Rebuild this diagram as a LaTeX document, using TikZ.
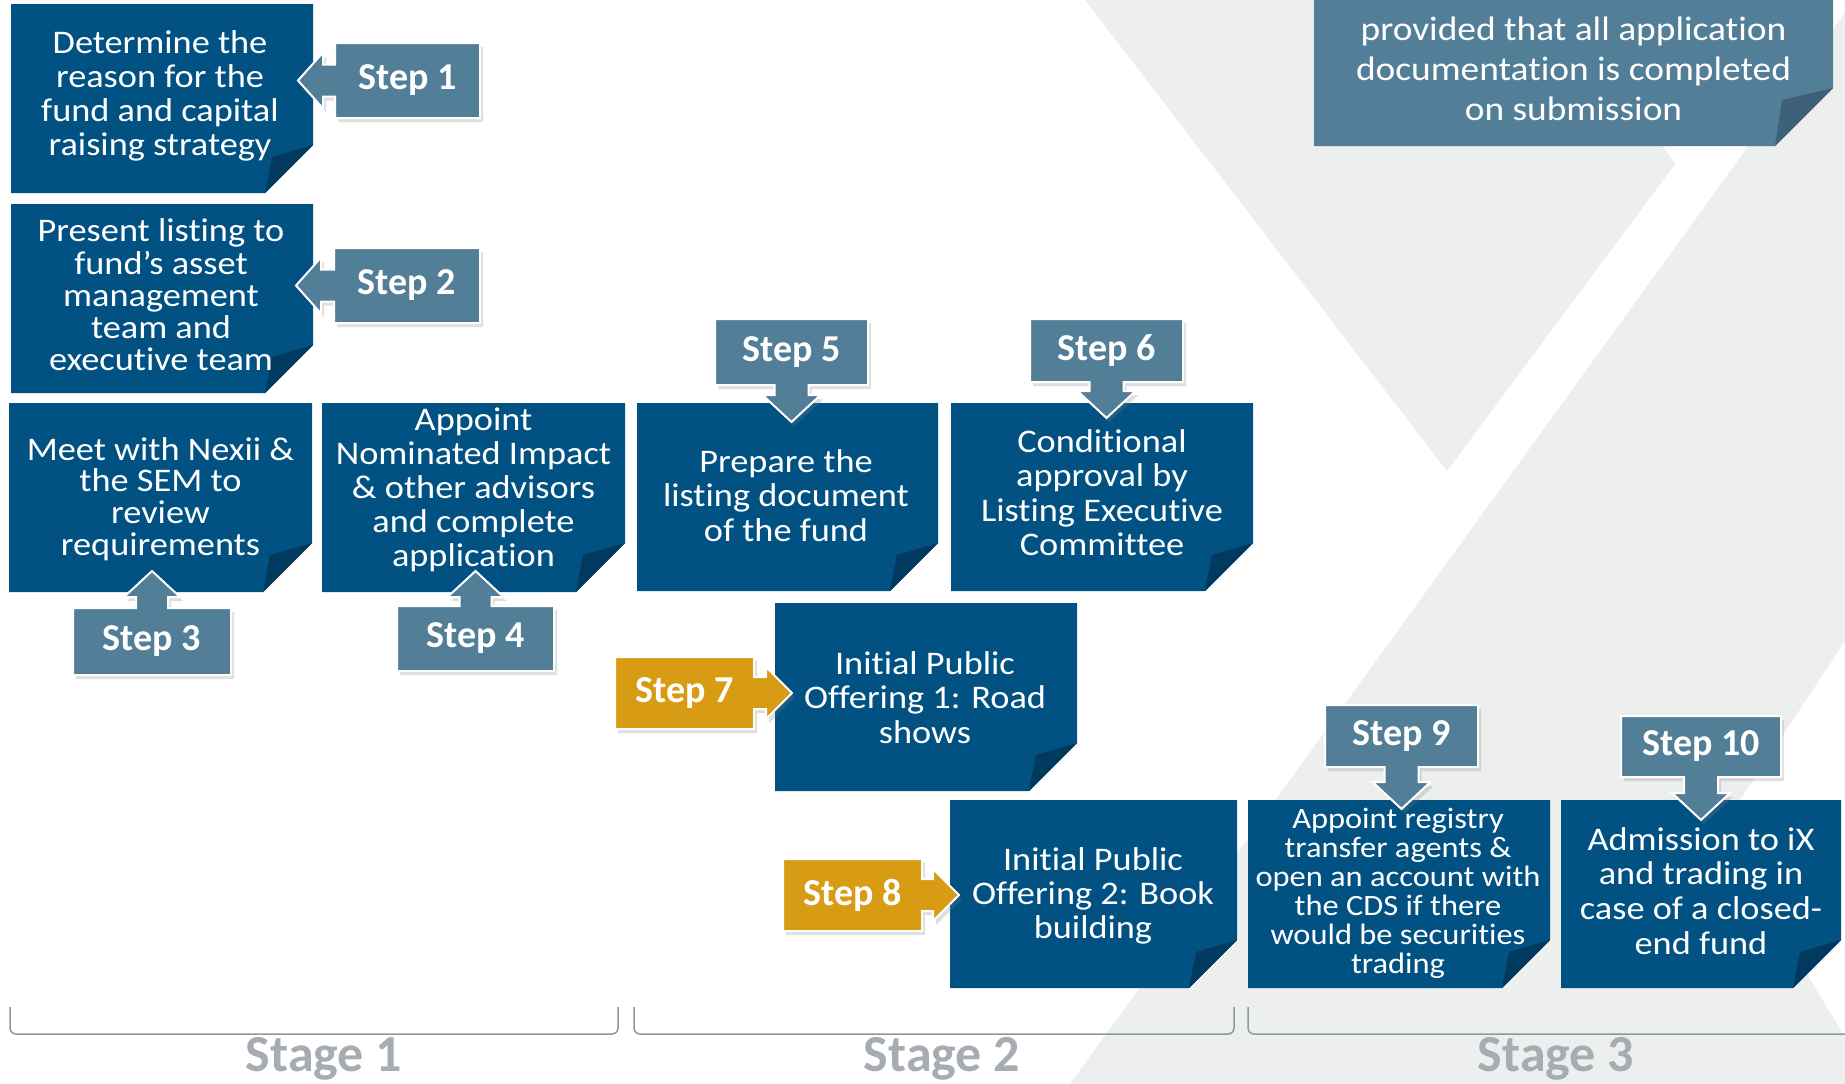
\documentclass[tikz,border=0pt]{standalone}
\usepackage{fontspec}
\setmainfont{Carlito}[FakeStretch=1.1, Ligatures=NoCommon]
\newfontfamily\labfont{Carlito}[Ligatures=NoCommon]
\usetikzlibrary{calc,shadows}
\definecolor{mainblue}{RGB}{1,82,131}
\definecolor{folddark}{RGB}{0,58,95}
\definecolor{stepblue}{RGB}{82,126,152}
\definecolor{stepfold}{RGB}{62,97,120}
\definecolor{gold}{RGB}{216,155,20}
\definecolor{bggray}{RGB}{237,239,239}
\definecolor{stagegray}{RGB}{166,172,177}
\definecolor{bracketgray}{RGB}{140,152,162}
\pgfdeclarelayer{bgl}
\pgfdeclarelayer{shp}
\pgfsetlayers{bgl,shp,main}
\tikzset{
 boxnode/.style={rectangle, inner sep=0pt, outer sep=0pt},
 btext/.style={align=center, text=white, inner sep=0pt, font=\fontsize{33}{34}\selectfont},
 steplabel/.style={rectangle, inner sep=0pt, outer sep=0pt, text=white, font=\labfont\bfseries\fontsize{38}{38}\selectfont},
 stepshape/.style={fill=stepblue, draw=white, line width=2pt, line join=miter, drop shadow={shadow xshift=3pt, shadow yshift=-4pt, opacity=0.25}},
 goldshape/.style={stepshape, fill=gold},
 stagelabel/.style={text=stagegray, font=\labfont\bfseries\fontsize{52}{52}\selectfont, inner sep=0pt, anchor=base},
 bracket/.style={draw=bracketgray, line width=1.5pt, rounded corners=6pt},
}
\newcommand\foldpoly[4]{%
 \fill[#3] (#1.north west) -- (#1.north east) -- ($(#1.south east)+(0,-#2)$) -- ($(#1.south east)+(-#2,0)$) -- (#1.south west) -- cycle;
 \fill[#4] ($(#1.south east)+(-#2,0)$) -- ($(#1.south east)+(0,-#2)$) -- ($(#1.south east)+(-#2+7,-#2+12)$) -- cycle;
}
\newcommand\callleft[4]{%
 \path[#3] let \p1=(#1.south west), \p2=(#1.north east), \p3=($(#1.west -| #2.east)+(-#4,0)$) in
 (\x1,\y1) -- (\x1,\y3-16pt) -- (\x3+25pt,\y3-16pt) -- (\x3+25pt,\y3-28pt) -- (\x3,\y3) -- (\x3+25pt,\y3+28pt) -- (\x3+25pt,\y3+16pt) -- (\x1,\y3+16pt) -- (\x1,\y2) -- (\x2,\y2) -- (\x2,\y1) -- cycle;
}
\newcommand\callright[4]{%
 \path[#3] let \p1=(#1.south west), \p2=(#1.north east), \p3=($(#1.east -| #2.west)+(#4,0)$) in
 (\x1,\y1) -- (\x1,\y2) -- (\x2,\y2) -- (\x2,\y3+16pt) -- (\x3-26pt,\y3+16pt) -- (\x3-26pt,\y3+26pt) -- (\x3,\y3) -- (\x3-26pt,\y3-26pt) -- (\x3-26pt,\y3-16pt) -- (\x2,\y3-16pt) -- (\x2,\y1) -- cycle;
}
\newcommand\calldown[4]{%
 \path[#3] let \p1=(#1.south west), \p2=(#1.north east), \p3=($(#1.south |- #2.north)+(0,#4)$) in
 (\x1,\y2) -- (\x2,\y2) -- (\x2,\y1) -- (\x3+17pt,\y1) -- (\x3+17pt,\y3+27pt) -- (\x3+29pt,\y3+27pt) -- (\x3,\y3) -- (\x3-29pt,\y3+27pt) -- (\x3-17pt,\y3+27pt) -- (\x3-17pt,\y1) -- (\x1,\y1) -- cycle;
}
\newcommand\callup[4]{%
 \path[#3] let \p1=(#1.south west), \p2=(#1.north east), \p3=($(#1.north |- #2.south)+(0,-#4)$) in
 (\x1,\y1) -- (\x1,\y2) -- (\x3-16pt,\y2) -- (\x3-16pt,\y3-26pt) -- (\x3-28pt,\y3-26pt) -- (\x3,\y3) -- (\x3+28pt,\y3-26pt) -- (\x3+16pt,\y3-26pt) -- (\x3+16pt,\y2) -- (\x2,\y2) -- (\x2,\y1) -- cycle;
}
\begin{document}
\begin{tikzpicture}[x=1pt,y=-1pt]
\useasboundingbox (0,0) rectangle (1845,1084);
\begin{pgfonlayer}{bgl}
 \fill[white] (0,0) rectangle (1845,1084);
 \fill[bggray] (1085,0) -- (1447,471) -- (1675,164) -- (1560,0) -- cycle;
 \fill[bggray] (1070,1084) -- (1854,0) -- (1900,0) -- (1900,1084) -- cycle;
 \fill[white] (1850,634) -- (1720,830) -- (1850,1045) -- cycle;
\end{pgfonlayer}
% box holders
\node[boxnode, minimum width=302pt, minimum height=189pt] (b1) at (162,98.5) {};
\node[boxnode, minimum width=302pt, minimum height=189pt] (b2) at (162,298.5) {};
\node[boxnode, minimum width=303pt, minimum height=189pt] (b3) at (160.5,497.5) {};
\node[boxnode, minimum width=303pt, minimum height=189pt] (b4) at (473.5,497.5) {};
\node[boxnode, minimum width=301pt, minimum height=188pt] (b5) at (787.5,497) {};
\node[boxnode, minimum width=302pt, minimum height=188pt] (b6) at (1102,497) {};
\node[boxnode, minimum width=302pt, minimum height=188pt] (b7) at (926,697) {};
\node[boxnode, minimum width=287pt, minimum height=188pt] (b8) at (1093.5,894) {};
\node[boxnode, minimum width=302pt, minimum height=188pt] (b9) at (1399,894) {};
\node[boxnode, minimum width=280pt, minimum height=188pt] (b10) at (1701,894) {};
\node[boxnode, minimum width=519pt, minimum height=156pt] (bt) at (1573.5,68) {};
% box texts
\node[btext] (t1) at (160,96) {Determine the\\reason for the\\fund and capital\\raising strategy};
\node[btext, font=\fontsize{33}{32.2}\selectfont] (t2) at (161,295) {Present listing to\\fund’s asset\\management\\team and\\executive team};
\node[btext, font=\fontsize{33}{31.7}\selectfont] (t3) at (160.5,499) {Meet with Nexii \&\\the SEM to\\review\\requirements};
\node[btext] (t4) at (473.5,489.5) {Appoint\\Nominated Impact\\\& other advisors\\and complete\\application};
\node[btext, font=\fontsize{33}{34.5}\selectfont] (t5) at (786,495.5) {Prepare the\\listing document\\of the fund};
\node[btext, font=\fontsize{33}{34.4}\selectfont] (t6) at (1102,492.5) {Conditional\\approval by\\Listing Executive\\Committee};
\node[btext, font=\fontsize{33}{34.3}\selectfont] (t7) at (925,697.5) {Initial Public\\Offering 1: Road\\shows};
\node[btext] (t8) at (1093,895.6) {Initial Public\\Offering 2: Book\\building};
\node[btext, font=\fontsize{29.5}{29}\selectfont] (t9) at (1398,893.5) {Appoint registry\\transfer agents \&\\open an account with\\the CDS if there\\would be securities\\trading};
\node[btext, font=\fontsize{33}{34.8}\selectfont] (t10) at (1701,891) {Admission to iX\\and trading in\\case of a closed-\\end fund};
\node[btext, font=\fontsize{34}{40}\selectfont] (tt) at (1573.5,69) {provided that all application\\documentation is completed\\on submission};
% step labels
\node[steplabel, minimum width=145pt, minimum height=75pt] (s1) at (407.5,80.5) {Step 1};
\node[steplabel, minimum width=146pt, minimum height=75pt] (s2) at (407,285.5) {Step 2};
\node[steplabel, minimum width=158pt, minimum height=67pt] (s3) at (152,641.5) {Step 3};
\node[steplabel, minimum width=157pt, minimum height=65pt] (s4) at (475.5,638.5) {Step 4};
\node[steplabel, minimum width=153pt, minimum height=66pt] (s5) at (791.5,352) {Step 5};
\node[steplabel, minimum width=153pt, minimum height=63pt] (s6) at (1106.5,350.5) {Step 6};
\node[steplabel, minimum width=139pt, minimum height=72pt] (s7) at (684.5,693) {Step 7};
\node[steplabel, minimum width=139pt, minimum height=72pt] (s8) at (852.5,895) {Step 8};
\node[steplabel, minimum width=153pt, minimum height=62pt] (s9) at (1401.5,736) {Step 9};
\node[steplabel, minimum width=160pt, minimum height=61pt] (s10) at (1701,746.5) {Step 10};
% stage labels
\node[stagelabel] (st1) at (324,1071) {Stage 1};
\node[stagelabel] (st2) at (942,1071) {Stage 2};
\node[stagelabel] (st3) at (1556,1071) {Stage 3};
\begin{pgfonlayer}{shp}
 \foldpoly{b1}{48}{mainblue}{folddark}
 \foldpoly{b2}{48}{mainblue}{folddark}
 \foldpoly{b3}{49}{mainblue}{folddark}
 \foldpoly{b4}{49}{mainblue}{folddark}
 \foldpoly{b5}{48}{mainblue}{folddark}
 \foldpoly{b6}{48}{mainblue}{folddark}
 \foldpoly{b7}{48}{mainblue}{folddark}
 \foldpoly{b8}{48}{mainblue}{folddark}
 \foldpoly{b9}{48}{mainblue}{folddark}
 \foldpoly{b10}{48}{mainblue}{folddark}
 \foldpoly{bt}{58}{stepblue}{stepfold}
 \callleft{s1}{b1}{stepshape}{15}
 \callleft{s2}{b2}{stepshape}{17}
 \callup{s3}{b3}{stepshape}{21}
 \callup{s4}{b4}{stepshape}{21}
 \calldown{s5}{b5}{stepshape}{19}
 \calldown{s6}{b6}{stepshape}{15}
 \callright{s7}{b7}{goldshape}{17}
 \callright{s8}{b8}{goldshape}{9}
 \calldown{s9}{b9}{stepshape}{9}
 \calldown{s10}{b10}{stepshape}{20}
 \draw[bracket] (10,1007) -- (10,1034) -- (618,1034) -- (618,1007);
 \draw[bracket] (634,1007) -- (634,1034) -- (1234,1034) -- (1234,1007);
 \draw[bracket] (1248,1007) -- (1248,1034) -- (1860,1034);
\end{pgfonlayer}
\end{tikzpicture}
\end{document}
